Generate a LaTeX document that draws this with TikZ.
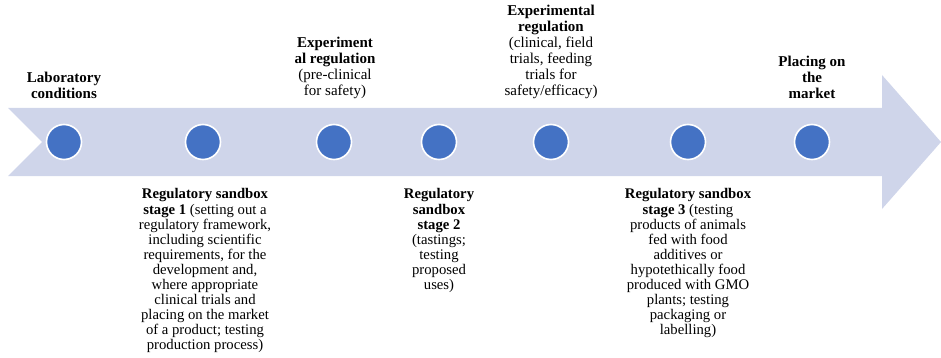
\documentclass[tikz,border=0pt]{standalone}
\usepackage{fontspec}
\setmainfont{Liberation Serif}
\definecolor{bandcol}{HTML}{CFD5EA}
\definecolor{dotcol}{HTML}{4472C4}
\tikzset{
  dot/.style={circle, fill=dotcol, draw=white, line width=1.6pt, minimum size=35pt, inner sep=0pt},
  lbl/.style={align=center, inner sep=0pt, text=black},
  toplbl/.style={lbl, anchor=south, font=\fontsize{15}{15.9}\selectfont},
  botlbl/.style={lbl, anchor=north, font=\fontsize{14.7}{15.1}\selectfont}
}
\begin{document}
\begin{tikzpicture}[x=1pt, y=-1pt]
\useasboundingbox (0,0) rectangle (941,358);
\fill[bandcol] (8,108) -- (882,108) -- (882,75) -- (941,142) -- (882,209) -- (882,176) -- (8,176) -- (42,142) -- cycle;
\node[dot] (c1) at (64,142) {};
\node[dot] (c2) at (203,142) {};
\node[dot] (c3) at (334,142) {};
\node[dot] (c4) at (439,142) {};
\node[dot] (c5) at (551,142) {};
\node[dot] (c6) at (688,142) {};
\node[dot] (c7) at (812,142) {};
\node[toplbl] (t1) at (64,98.5) {\textbf{Laboratory}\\\textbf{conditions}};
\node[toplbl] (t3) at (335,98.5) {\textbf{Experiment}\\\textbf{al regulation}\\(pre-clinical\\for safety)};
\node[toplbl] (t5) at (551,98.5) {\textbf{Experimental}\\\textbf{regulation}\\(clinical, field\\trials, feeding\\trials for\\safety/efficacy)};
\node[toplbl] (t7) at (812,98.5) {\textbf{Placing on}\\\textbf{the}\\\textbf{market}};
\node[botlbl] (t2) at (205,188.5) {\textbf{Regulatory sandbox}\\\textbf{stage 1} (setting out a\\regulatory framework,\\including scientific\\requirements, for the\\development and,\\where appropriate\\clinical trials and\\placing on the market\\of a product; testing\\production process)};
\node[botlbl] (t4) at (439,188.5) {\textbf{Regulatory}\\\textbf{sandbox}\\\textbf{stage 2}\\(tastings;\\testing\\proposed\\uses)};
\node[botlbl] (t6) at (688,188.5) {\textbf{Regulatory sandbox}\\\textbf{stage 3} (testing\\products of animals\\fed with food\\additives or\\hypotethically food\\produced with GMO\\plants; testing\\packaging or\\labelling)};
\end{tikzpicture}
\end{document}
